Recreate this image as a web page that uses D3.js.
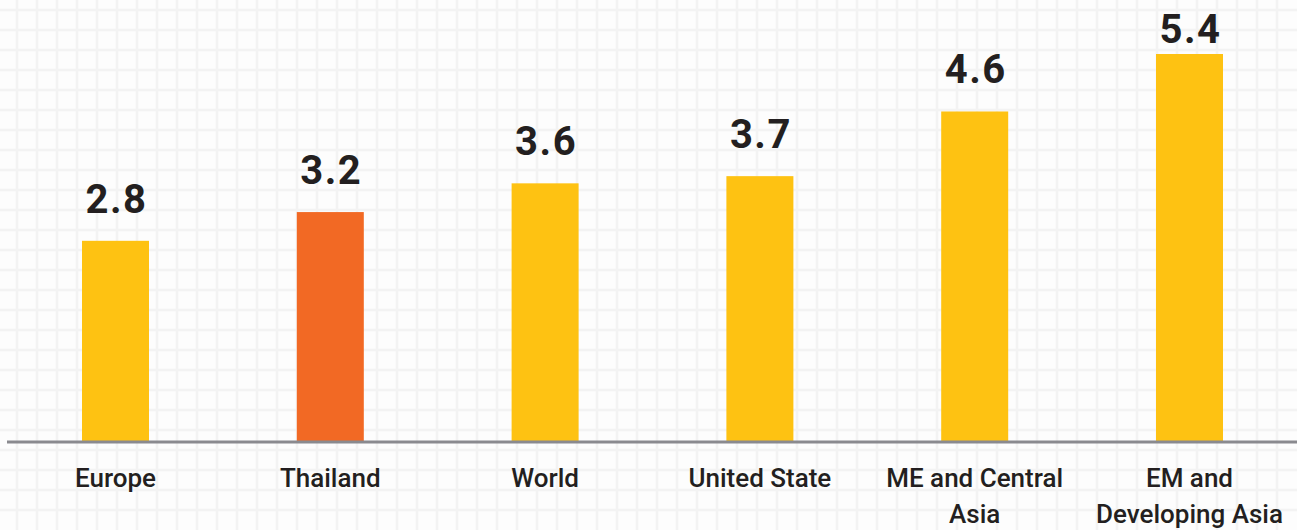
<!DOCTYPE html>
<html>
<head>
<meta charset="utf-8">
<script src="https://cdn.jsdelivr.net/npm/d3@7"></script>
<style>
  body { margin: 0; background: #fdfdfd; }
  svg { display: block; }
</style>
</head>
<body>
<svg id="chart" width="1297" height="530"></svg>
<script>
// data
var categories = ["Europe", "Thailand", "World", "United State", "ME and Central\nAsia", "EM and\nDeveloping Asia"];
var values = [2.8, 3.2, 3.6, 3.7, 4.6, 5.4];
var highlight = "Thailand";

var width = 1297, height = 530;
var baseY = 442;
var barW = 67;

var svg = d3.select("#chart");

// grid paper background
var gx = d3.range(17, width, 20);
var gy = d3.range(10, height, 20);
var grid = svg.append("g").attr("stroke", "#f3f3f3").attr("stroke-width", 2.5);
grid.selectAll("line.v").data(gx).enter().append("line")
  .attr("x1", function(d) { return d; }).attr("x2", function(d) { return d; })
  .attr("y1", 0).attr("y2", height);
grid.selectAll("line.h").data(gy).enter().append("line")
  .attr("y1", function(d) { return d; }).attr("y2", function(d) { return d; })
  .attr("x1", 0).attr("x2", width);

// scales
var x = d3.scalePoint().domain(categories).range([115.5, 1189.5]);
var y = d3.scaleLinear().domain([0, 5.4]).range([baseY, 54]);

// bars
svg.selectAll("rect.bar").data(values).enter().append("rect")
  .attr("class", "bar")
  .attr("x", function(d, i) { return x(categories[i]) - barW / 2; })
  .attr("width", barW)
  .attr("y", function(d) { return y(d); })
  .attr("height", function(d) { return baseY - y(d); })
  .attr("fill", function(d, i) { return categories[i] == highlight ? "#f26924" : "#fec212"; });

// value labels
svg.selectAll("text.val").data(values).enter().append("text")
  .attr("class", "val")
  .attr("x", function(d, i) { return x(categories[i]) + 1; })
  .attr("y", function(d) { return Math.max(y(d) - 28, 43); })
  .attr("text-anchor", "middle")
  .attr("font-family", "Roboto, Liberation Sans, sans-serif")
  .attr("font-weight", "bold")
  .attr("font-size", 40)
  .attr("letter-spacing", 1.5)
  .attr("fill", "#231f20")
  .text(function(d) { return d.toFixed(1); });

// baseline
svg.append("line")
  .attr("x1", 7).attr("x2", width)
  .attr("y1", baseY).attr("y2", baseY)
  .attr("stroke", "#8a8a8f").attr("stroke-width", 3);

// category labels
var labels = svg.selectAll("text.cat").data(categories).enter().append("text")
  .attr("class", "cat")
  .attr("x", function(d) { return x(d); })
  .attr("y", 487)
  .attr("text-anchor", "middle")
  .attr("font-family", "Roboto, Liberation Sans, sans-serif")
  .attr("font-weight", 500)
  .attr("font-size", 26)
  .attr("fill", "#231f20");
labels.each(function(d) {
  var t = d3.select(this);
  d.split("\n").forEach(function(line, i) {
    t.append("tspan")
      .attr("x", t.attr("x"))
      .attr("dy", i == 0 ? 0 : 36)
      .text(line);
  });
});
</script>
</body>
</html>
